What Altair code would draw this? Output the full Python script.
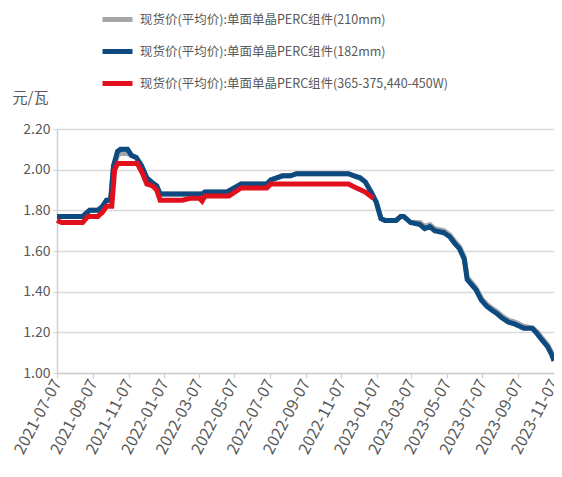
import altair as alt
import pandas as pd

# ---- data ----
blue_dates = ["2021-07-07", "2021-08-20", "2021-09-01", "2021-09-15", "2021-09-23", "2021-09-30",
              "2021-10-07", "2021-10-12", "2021-10-19", "2021-10-24", "2021-11-05", "2021-11-12",
              "2021-11-20", "2021-11-29", "2021-12-08", "2021-12-16", "2021-12-25", "2021-12-31",
              "2022-03-13", "2022-03-18", "2022-04-25", "2022-05-07", "2022-05-19", "2022-07-02",
              "2022-07-09", "2022-07-19", "2022-07-29", "2022-08-12", "2022-08-22", "2022-11-19",
              "2022-11-29", "2022-12-09", "2022-12-18", "2022-12-28", "2023-01-06", "2023-01-14",
              "2023-01-21", "2023-02-09", "2023-02-17", "2023-02-22", "2023-03-06", "2023-03-22",
              "2023-03-30", "2023-04-08", "2023-04-16", "2023-05-02", "2023-05-12", "2023-05-20",
              "2023-05-29", "2023-06-06", "2023-06-11", "2023-06-17", "2023-06-26", "2023-07-05",
              "2023-07-14", "2023-07-23", "2023-08-02", "2023-08-10", "2023-08-21", "2023-09-01",
              "2023-09-09", "2023-09-16", "2023-10-01", "2023-10-10", "2023-10-18", "2023-10-27",
              "2023-11-03", "2023-11-07"]
blue_values = [1.77, 1.77, 1.80, 1.80, 1.82, 1.85,
               1.85, 2.02, 2.09, 2.10, 2.10, 2.07,
               2.06, 2.02, 1.96, 1.94, 1.92, 1.88,
               1.88, 1.89, 1.89, 1.91, 1.93, 1.93,
               1.95, 1.96, 1.97, 1.97, 1.98, 1.98,
               1.97, 1.96, 1.94, 1.89, 1.84, 1.76,
               1.75, 1.75, 1.77, 1.77, 1.74, 1.73,
               1.71, 1.72, 1.70, 1.69, 1.67, 1.64,
               1.61, 1.56, 1.46, 1.44, 1.41, 1.36,
               1.33, 1.31, 1.29, 1.27, 1.25, 1.24,
               1.23, 1.22, 1.22, 1.19, 1.16, 1.13,
               1.09, 1.06]

gray_dates = blue_dates
gray_values = [1.77, 1.77, 1.80, 1.80, 1.82, 1.85,
               1.85, 2.01, 2.07, 2.08, 2.08, 2.07,
               2.06, 2.02, 1.96, 1.94, 1.92, 1.88,
               1.88, 1.89, 1.89, 1.91, 1.93, 1.93,
               1.95, 1.96, 1.97, 1.97, 1.98, 1.98,
               1.97, 1.96, 1.94, 1.89, 1.84, 1.76,
               1.75, 1.75, 1.77, 1.77, 1.74, 1.74,
               1.72, 1.73, 1.71, 1.70, 1.68, 1.65,
               1.62, 1.57, 1.47, 1.45, 1.42, 1.37,
               1.34, 1.32, 1.30, 1.28, 1.26, 1.25,
               1.24, 1.23, 1.22, 1.20, 1.17, 1.14,
               1.10, 1.06]

red_dates = ["2021-07-07", "2021-07-15", "2021-08-20", "2021-08-29", "2021-09-15", "2021-09-23",
             "2021-09-30", "2021-10-09", "2021-10-14", "2021-10-19", "2021-11-22", "2021-12-01",
             "2021-12-08", "2021-12-18", "2021-12-25", "2021-12-31", "2022-02-07", "2022-02-22",
             "2022-03-08", "2022-03-13", "2022-03-18", "2022-04-28", "2022-05-19", "2022-07-02",
             "2022-07-09", "2022-11-19", "2022-12-03", "2022-12-18", "2023-01-01"]
red_values = [1.75, 1.74, 1.74, 1.77, 1.77, 1.79,
              1.82, 1.82, 2.00, 2.03, 2.03, 1.98,
              1.93, 1.92, 1.90, 1.85, 1.85, 1.86,
              1.86, 1.845, 1.87, 1.87, 1.91, 1.91,
              1.93, 1.93, 1.91, 1.89, 1.86]

series_names = ["现货价(平均价):单面单晶PERC组件(210mm)",
                "现货价(平均价):单面单晶PERC组件(182mm)",
                "现货价(平均价):单面单晶PERC组件(365-375,440-450W)"]
series_colors = ["#A6A6A6", "#0D4A7F", "#E1101C"]

y_ticks = [1.0, 1.2, 1.4, 1.6, 1.8, 2.0, 2.2]
x_tick_dates = [(2021, 7), (2021, 9), (2021, 11), (2022, 1), (2022, 3), (2022, 5), (2022, 7),
                (2022, 9), (2022, 11), (2023, 1), (2023, 3), (2023, 5), (2023, 7), (2023, 9),
                (2023, 11)]

# ---- tables ----
frames = []
for name, d, v in zip(series_names, [gray_dates, blue_dates, red_dates],
                      [gray_values, blue_values, red_values]):
    frames.append(pd.DataFrame({"date": d, "value": v, "series": name}))
df = pd.concat(frames, ignore_index=True)

FONT = "Noto Sans CJK SC"
TXT = "#595959"

x_enc = alt.X(
    "date:T",
    scale=alt.Scale(type="utc",
                    domain=[alt.DateTime(year=2021, month=7, date=7, utc=True),
                            alt.DateTime(year=2023, month=11, date=7, utc=True)]),
    axis=alt.Axis(
        values=[alt.DateTime(year=y, month=m, date=7, utc=True) for y, m in x_tick_dates],
        format="%Y-%m-%d", labelAngle=-62, labelFontSize=16, labelColor=TXT,
        labelFont=FONT, grid=False, domainColor="#D0D0D0", domainWidth=1.5,
        tickColor="#D0D0D0", tickSize=5, tickWidth=1.2, title=None,
        labelOverlap=False, labelPadding=2, labelFlush=False),
)
y_enc = alt.Y(
    "value:Q",
    scale=alt.Scale(domain=[1.0, 2.2], nice=False, zero=False),
    axis=alt.Axis(values=y_ticks, format=".2f", labelFontSize=14, labelColor=TXT,
                  labelFont=FONT, gridColor="#D9D9D9", gridWidth=1.5,
                  domainColor="#D0D0D0", domainWidth=1.5, tickColor="#D0D0D0",
                  tickSize=4, labelPadding=3,
                  title="元/瓦", titleAngle=0, titleX=-27, titleY=-24,
                  titleAlign="center", titleFontSize=15, titleFontWeight="normal",
                  titleColor=TXT, titleFont=FONT),
)
color_enc = alt.Color(
    "series:N",
    scale=alt.Scale(domain=series_names, range=series_colors),
    legend=alt.Legend(orient="none", legendX=43, legendY=-127, direction="vertical",
                      title=None, symbolType="stroke", symbolSize=900,
                      symbolStrokeWidth=5, labelFontSize=12.5, labelColor=TXT,
                      labelFont=FONT, labelOffset=5, rowPadding=4, labelLimit=400),
)

layers = []
for name in series_names:
    layers.append(
        alt.Chart(df).transform_filter(alt.datum.series == name)
        .mark_line(strokeWidth=5)
        .encode(x=x_enc, y=y_enc, color=color_enc)
    )

chart = alt.layer(*layers).properties(
    width=497, height=244,
    autosize=alt.AutoSizeParams(type="none"),
    padding={"left": 49, "top": 121, "right": 0, "bottom": 94},
).configure_view(stroke=None)

chart.save("out.html", embed_options={"renderer": "svg", "actions": False})
